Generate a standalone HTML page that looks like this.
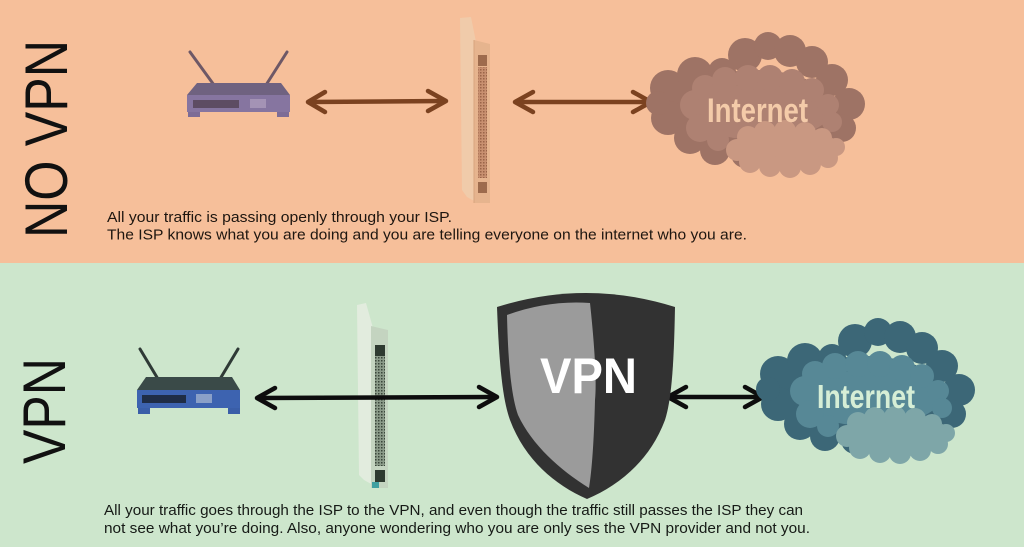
<!DOCTYPE html>
<html><head><meta charset="utf-8"><style>
html,body{margin:0;padding:0;width:1024px;height:547px;overflow:hidden;background:#cde6cc}
svg{display:block}
</style></head><body>
<svg width="1024" height="547" viewBox="0 0 1024 547" xmlns="http://www.w3.org/2000/svg" font-family="'Liberation Sans', Arial, sans-serif">
<defs>
<g id="cOuter">
<ellipse cx="755" cy="110" rx="80" ry="40"/>
<circle cx="668" cy="88" r="18"/><circle cx="695" cy="75" r="18"/><circle cx="722" cy="72" r="14"/>
<circle cx="745" cy="55" r="17"/><circle cx="768" cy="46" r="14"/><circle cx="790" cy="51" r="16"/>
<circle cx="812" cy="62" r="16"/><circle cx="832" cy="80" r="16"/><circle cx="849" cy="104" r="16"/>
<circle cx="842" cy="128" r="14"/><circle cx="820" cy="145" r="14"/><circle cx="668" cy="118" r="17"/>
<circle cx="690" cy="138" r="16"/><circle cx="715" cy="150" r="15"/><circle cx="745" cy="154" r="14"/>
<circle cx="658" cy="103" r="12"/>
</g>
<g id="cMid">
<ellipse cx="760" cy="112" rx="70" ry="28"/>
<circle cx="695" cy="105" r="15"/><circle cx="705" cy="88" r="13"/><circle cx="725" cy="80" r="13"/>
<circle cx="748" cy="78" r="13"/><circle cx="770" cy="78" r="13"/><circle cx="792" cy="82" r="13"/>
<circle cx="812" cy="90" r="12"/><circle cx="828" cy="105" r="11"/><circle cx="832" cy="122" r="10"/>
<circle cx="700" cy="128" r="14"/><circle cx="718" cy="140" r="11"/>
</g>
<g id="cLow">
<ellipse cx="785" cy="150" rx="48" ry="16"/>
<circle cx="737" cy="150" r="11"/><circle cx="748" cy="137" r="11"/><circle cx="765" cy="132" r="11"/>
<circle cx="785" cy="131" r="11"/><circle cx="805" cy="133" r="11"/><circle cx="822" cy="138" r="10"/>
<circle cx="836" cy="147" r="9"/><circle cx="828" cy="158" r="10"/><circle cx="810" cy="164" r="11"/>
<circle cx="790" cy="167" r="11"/><circle cx="770" cy="166" r="11"/><circle cx="750" cy="162" r="11"/>
</g>
<pattern id="meshT" width="3" height="3" patternUnits="userSpaceOnUse"><rect width="3" height="3" fill="#c89070"/><rect width="1.5" height="1.5" fill="#9a6448"/></pattern>
<pattern id="meshB" width="3" height="3" patternUnits="userSpaceOnUse"><rect width="3" height="3" fill="#8c9c8a"/><rect width="1.5" height="1.5" fill="#3a463a"/></pattern>
</defs>

<!-- backgrounds -->
<rect x="0" y="0" width="1024" height="263" fill="#f6bf9a"/>
<rect x="0" y="263" width="1024" height="284" fill="#cde6cc"/>

<!-- side labels -->
<text transform="translate(67,238) rotate(-90)" font-size="60" fill="#111" textLength="198" lengthAdjust="spacingAndGlyphs">NO VPN</text>
<text transform="translate(65,464) rotate(-90)" font-size="60" fill="#111" textLength="106" lengthAdjust="spacingAndGlyphs">VPN</text>

<!-- TOP router -->
<line x1="190" y1="52" x2="214" y2="85" stroke="#6e5866" stroke-width="3" stroke-linecap="round"/>
<line x1="287" y1="52" x2="266" y2="85" stroke="#6e5866" stroke-width="3" stroke-linecap="round"/>
<polygon points="197,83 281,83 290,95 187,95" fill="#6f6280"/>
<rect x="187" y="95" width="103" height="17" fill="#8675a0"/>
<rect x="193" y="100" width="46" height="8" fill="#5d4c63"/>
<rect x="250" y="99" width="16" height="9" fill="#a493b5"/>
<rect x="188" y="112" width="12" height="5" fill="#7d6c96"/>
<rect x="277" y="112" width="12" height="5" fill="#7d6c96"/>

<!-- TOP server -->
<polygon points="460,18 471,17 476,42 476,202 467,197 462,190" fill="#f0cbaa"/>
<polygon points="474,40 490,44 490,203 474,203" fill="#e6b48e"/>
<rect x="478" y="55" width="9" height="11" fill="#9d6b4d"/>
<rect x="478" y="67" width="9" height="111" fill="url(#meshT)"/>
<rect x="478" y="182" width="9" height="11" fill="#9d6b4d"/>
<line x1="474" y1="40" x2="474" y2="203" stroke="#d8a47e" stroke-width="1"/>

<!-- TOP arrows -->
<g stroke="#7b4220" stroke-width="4.5" fill="none" stroke-linecap="round" stroke-linejoin="round">
<line x1="309" y1="102" x2="445" y2="101"/>
<polyline points="325,92 308,102 325,112"/>
<polyline points="428,91 446,101 428,111"/>
<line x1="517" y1="102" x2="649" y2="102"/>
<polyline points="533,92 515,102 533,112"/>
<polyline points="633,92 651,102 633,112"/>
</g>

<!-- TOP cloud -->
<use href="#cOuter" fill="#9e7365"/>
<use href="#cMid" fill="#ae8172"/>
<use href="#cLow" fill="#c99882"/>
<text x="707" y="122" font-size="34" font-weight="bold" fill="#f4cba9" textLength="101" lengthAdjust="spacingAndGlyphs">Internet</text>

<!-- TOP captions -->
<text x="107" y="222" font-size="14.5" fill="#1e1610" textLength="345" lengthAdjust="spacingAndGlyphs">All your traffic is passing openly through your ISP.</text>
<text x="107" y="239.5" font-size="14.5" fill="#1e1610" textLength="640" lengthAdjust="spacingAndGlyphs">The ISP knows what you are doing and you are telling everyone on the internet who you are.</text>

<!-- BOTTOM router -->
<line x1="140" y1="349" x2="161" y2="384" stroke="#2f3a36" stroke-width="3" stroke-linecap="round"/>
<line x1="238" y1="349" x2="217" y2="384" stroke="#2f3a36" stroke-width="3" stroke-linecap="round"/>
<polygon points="146,377 232,377 240,390 137,390" fill="#3a4a48"/>
<rect x="137" y="390" width="103" height="18" fill="#3d63b0"/>
<rect x="142" y="395" width="44" height="8" fill="#1f2d46"/>
<rect x="196" y="394" width="16" height="9" fill="#8aa0c8"/>
<rect x="138" y="408" width="12" height="6" fill="#3a5ea8"/>
<rect x="228" y="408" width="12" height="6" fill="#3a5ea8"/>

<!-- BOTTOM server -->
<polygon points="357,305 366,303 373,328 373,485 364,480 359,475" fill="#e2ecde"/>
<polygon points="371,326 388,330 388,488 371,488" fill="#c4d4c0"/>
<rect x="375" y="345" width="10" height="11" fill="#2e3a30"/>
<rect x="375" y="356" width="10" height="110" fill="url(#meshB)"/>
<rect x="375" y="470" width="10" height="12" fill="#2e3a30"/>
<rect x="372" y="482" width="7" height="6" fill="#3fa0a0"/>

<!-- BOTTOM arrows -->
<g stroke="#0d0d0d" stroke-width="4.5" fill="none" stroke-linecap="round" stroke-linejoin="round">
<line x1="259" y1="398" x2="493" y2="397"/>
<polyline points="275,388 257,398 275,408"/>
<polyline points="479,387 497,397 479,407"/>
<line x1="670" y1="397" x2="761" y2="397"/>
<polyline points="686,387 668,397 686,407"/>
<polyline points="745,387 763,397 745,407"/>
</g>

<!-- Shield -->
<path d="M497,307 Q586,279 675,307 C674,360 672,398 665,420 C650,460 620,485 587,499 C555,485 525,460 510,420 C502,398 499,360 497,307 Z" fill="#323232"/>
<path d="M507,315 Q548,300 590,303 C594,340 597,380 595,400 C594,440 592,470 589,488 C560,470 532,445 518,415 C511,395 508,360 507,315 Z" fill="#9b9b9b"/>
<text x="540" y="393" font-size="50" font-weight="bold" fill="#ffffff" textLength="97" lengthAdjust="spacingAndGlyphs">VPN</text>

<!-- BOTTOM cloud -->
<g transform="translate(110,286)">
<use href="#cOuter" fill="#3c6777"/>
<use href="#cMid" fill="#578896"/>
<use href="#cLow" fill="#7ea6a8"/>
</g>
<text x="817" y="408" font-size="33" font-weight="bold" fill="#d6eed6" textLength="98" lengthAdjust="spacingAndGlyphs">Internet</text>

<!-- BOTTOM captions -->
<text x="104" y="515" font-size="14.5" fill="#161a16" textLength="699" lengthAdjust="spacingAndGlyphs">All your traffic goes through the ISP to the VPN, and even though the traffic still passes the ISP they can</text>
<text x="104" y="533" font-size="14.5" fill="#161a16" textLength="706" lengthAdjust="spacingAndGlyphs">not see what you’re doing. Also, anyone wondering who you are only ses the VPN provider and not you.</text>
</svg>
</body></html>
